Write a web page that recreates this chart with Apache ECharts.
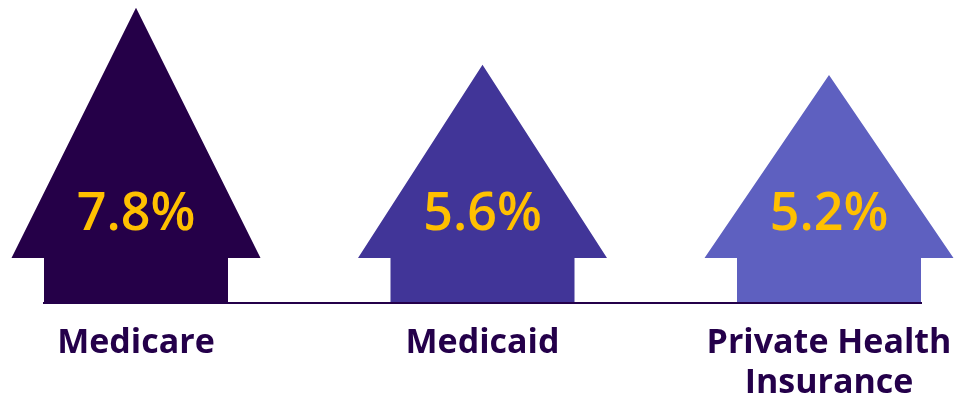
<!DOCTYPE html>
<html>
<head>
<meta charset="utf-8">
<script src="https://cdn.jsdelivr.net/npm/echarts@6/dist/echarts.min.js"></script>
<style>
html,body{margin:0;padding:0;background:#fff;}
#chart{width:957px;height:399px;}
</style>
</head>
<body>
<div id="chart"></div>
<script>
const categories = ['Medicare', 'Medicaid', 'Private Health\nInsurance'];
const values = [7.8, 5.6, 5.2];
const valueLabels = ['7.8%', '5.6%', '5.2%'];
const colors = ['#250048', '#413598', '#5E60C0'];

const Y_MIN = -3.6, Y_MAX = 8.1;
const HEAD_HALF = 124.5, SHAFT_HALF = 92, SHAFT_H = 45, LABEL_OFFSET = 88;

const chart = echarts.init(document.getElementById('chart'));
chart.setOption({
  animation: false,
  grid: { left: 136, right: 128, top: 0, bottom: 96, containLabel: false, outerBoundsMode: 'none' },
  xAxis: {
    type: 'category',
    data: categories,
    boundaryGap: false,
    axisLine: { show: false },
    axisTick: { show: false },
    axisLabel: {
      margin: 20,
      color: '#24004A',
      fontFamily: 'Open Sans',
      fontWeight: 700,
      fontSize: 34,
      lineHeight: 40,
      align: 'center'
    }
  },
  yAxis: {
    type: 'value', min: Y_MIN, max: Y_MAX, show: false, splitLine: { show: false }
  },
  series: [{
    type: 'custom',
    data: values.map((v, i) => [i, v]),
    renderItem: function (params, api) {
      const i = api.value(0), v = api.value(1);
      const tip = api.coord([i, v]);
      const base = api.coord([i, Y_MIN]);
      const cx = tip[0], by = base[1], hy = by - SHAFT_H;
      const n = values.length;
      const left = i === 0 ? cx - SHAFT_HALF : (cx + api.coord([i - 1, Y_MIN])[0]) / 2;
      const right = i === n - 1 ? cx + SHAFT_HALF : (cx + api.coord([i + 1, Y_MIN])[0]) / 2;
      return {
        type: 'group',
        children: [
          {
            type: 'polygon',
            shape: { points: [[cx, tip[1]], [cx + HEAD_HALF, hy], [cx + SHAFT_HALF, hy], [cx + SHAFT_HALF, by], [cx - SHAFT_HALF, by], [cx - SHAFT_HALF, hy], [cx - HEAD_HALF, hy]] },
            style: { fill: colors[i] }
          },
          {
            type: 'line',
            shape: { x1: left - 1, y1: by, x2: right + 1, y2: by },
            style: { stroke: '#24004A', lineWidth: 2 }
          },
          {
            type: 'text',
            x: cx, y: by - LABEL_OFFSET,
            style: {
              text: valueLabels[i], fill: '#FFC000',
              fontFamily: 'Open Sans', fontWeight: 600, fontSize: 52,
              align: 'center', verticalAlign: 'middle'
            }
          }
        ]
      };
    }
  }]
});
</script>
</body>
</html>
